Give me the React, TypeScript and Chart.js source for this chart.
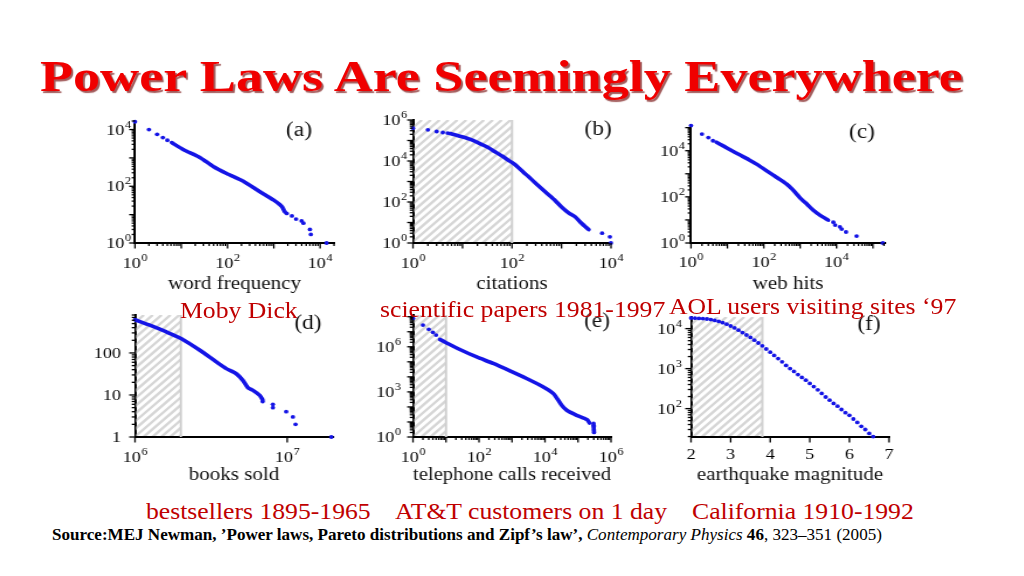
import React, { useEffect, useRef } from "react";
import { Chart, registerables } from "chart.js";
Chart.register(...registerables);

const BLUE = "#1414e6";
const SERIF = "'Liberation Serif', 'Times New Roman', Times, serif";
const SX = 1.17;

// ---------- data ----------
// (a) Moby Dick: word frequency vs number of words
const mobyDickCurve: [number, number][] = [
  [6.2, 3470], [11.2, 1950], [25.7, 1020], [49, 500], [95.5, 282], [219, 150],
  [501, 64], [977, 33], [1479, 19.5], [1738, 12.3],
];
const mobyDickDots: [number, number][] = [
  [1, 18855], [2, 10000], [3, 6800], [4, 5200], [5, 4200],
  [1905, 11], [2455, 9], [3020, 7], [3981, 6], [4365, 5], [6026, 3], [6310, 2], [13800, 1],
];
// (b) citations of scientific papers
const citationsCurve: [number, number][] = [
  [5.6, 219000], [9.3, 158000], [14, 117000], [20.4, 79400], [31.6, 47900], [44.7, 28800],
  [63, 17400], [83, 11200], [110, 7240], [158, 3390], [214, 1740], [316, 741], [468, 316],
  [708, 132], [1000, 57.5], [1413, 28.8], [1905, 18.6], [2570, 8.9], [3548, 4.5],
];
const citationsDots: [number, number][] = [
  [1, 398000], [2, 331000], [3, 275000], [4, 245000], [5, 229000],
  [6607, 3], [9500, 2], [9950, 1],
];
// (c) web hits
const webHitsCurve: [number, number][] = [
  [5, 23400], [7.9, 15800], [12.6, 10500], [22.4, 6460], [39.8, 3980], [63, 2630],
  [112, 1445], [182, 871], [282, 562], [427, 355], [631, 200], [977, 93], [1585, 45.7],
  [2291, 26.3], [3548, 15.8], [5888, 9.8],
];
const webHitsDots: [number, number][] = [
  [1, 123000], [2, 52500], [3, 37000], [4, 27000],
  [8128, 8], [9120, 6], [12300, 5], [13800, 4], [18200, 3], [35500, 2], [186000, 1],
];
// (d) books sold
const booksCurve: [number, number][] = [
  [1e6, 617], [1.25e6, 457], [1.61e6, 316], [2.02e6, 219], [2.67e6, 116], [3.43e6, 61],
  [3.98e6, 42.4], [4.63e6, 32], [5.13e6, 22], [5.52e6, 14.9], [5.96e6, 12.9], [6.6e6, 9.8],
  [6.9e6, 7.7],
];
const booksDots: [number, number][] = [
  [6.9e6, 7], [8.05e6, 6], [8.05e6, 5], [9.85e6, 4], [1.09e7, 3], [1.135e7, 2], [1.95e7, 1],
];
// (e) telephone calls received
const callsCurve: [number, number][] = [
  [6.5, 3.1e6], [9.8, 1.95e6], [26.3, 6.6e5], [85, 2.1e5], [270, 7.8e4], [870, 2.5e4],
  [2760, 7800], [8900, 2150], [18000, 776], [32000, 129], [45700, 60], [91000, 27.5],
  [186000, 14.4], [224000, 8.5],
];
const callsDots: [number, number][] = [
  [1, 7.8e7], [2, 2.77e7], [3, 1.44e7], [4, 9.1e6], [5, 6e6],
  [2.95e5, 8], [2.97e5, 6], [3.0e5, 5], [3.0e5, 4], [3.02e5, 3], [3.05e5, 2.5], [3.05e5, 2],
];
// (f) earthquake magnitude
const quakeMagnitudes: number[] = [
  2.0, 2.1, 2.2, 2.3, 2.4, 2.5, 2.6, 2.7, 2.8, 2.9, 3.0, 3.1, 3.2, 3.3, 3.4, 3.5, 3.6, 3.7,
  3.8, 3.9, 4.0, 4.1, 4.2, 4.3, 4.4, 4.5, 4.6, 4.7, 4.8, 4.9, 5.0, 5.1, 5.2, 5.3, 5.4, 5.5,
  5.6, 5.7, 5.8, 5.9, 6.0, 6.1, 6.2, 6.3, 6.4, 6.5, 6.6,
];
const quakeCounts: number[] = [
  18400, 18200, 18000, 17800, 17400, 16800, 16000, 15100, 14100, 12900, 11600, 10400, 9120,
  7940, 6920, 6030, 5130, 4370, 3720, 3090, 2570, 2140, 1780, 1480, 1200, 1000, 851, 708,
  603, 513, 427, 355, 295, 240, 195, 162, 135, 115, 95, 79, 68, 55, 45, 36, 30, 24, 20,
];

// shaded (hatched) ranges
const citationsHatch: [number, number] = [1, 100];
const booksHatch: [number, number] = [1e6, 2e6];
const callsHatch: [number, number] = [1, 10];
const quakeHatch: [number, number] = [2, 3.8];

// labelled ticks
const aXTicks = [1, 100, 10000];
const aYTicks = [1, 100, 10000];
const bXTicks = [1, 100, 10000];
const bYTicks = [1, 100, 10000, 1000000];
const cXTicks = [1, 100, 10000];
const cYTicks = [1, 100, 10000];
const dXTicks = [1e6, 1e7];
const dYTicks = [1, 10, 100];
const eXTicks = [1, 100, 10000, 1000000];
const eYTicks = [1, 1000, 1000000];
const fXTicks = [2, 3, 4, 5, 6, 7];
const fYTicks = [100, 1000, 10000];

// ---------- helpers ----------
type Lbl = [string, string];
const pow10Label = (v: number): Lbl => ["10", String(Math.round(Math.log10(v)))];
const plainLabel = (v: number): Lbl => [String(v), ""];

function buildTickValues(type: string, min: number, max: number, minor: boolean, labeled: number[]) {
  if (type === "linear") return labeled.slice();
  const out: number[] = [];
  const e0 = Math.floor(Math.log10(min) + 1e-9);
  const e1 = Math.ceil(Math.log10(max) - 1e-9);
  for (let e = e0; e <= e1; e++) {
    for (let m = 1; m <= 9; m++) {
      if (!minor && m !== 1) continue;
      const v = parseFloat((m * Math.pow(10, e)).toPrecision(12));
      if (v >= min * (1 - 1e-9) && v <= max * (1 + 1e-9)) out.push(v);
    }
  }
  return out;
}
const isMajor = (type: string, v: number) =>
  type === "linear" ? true : Math.abs(Math.log10(v) - Math.round(Math.log10(v))) < 1e-6;
const toXY = (pairs: [number, number][]) => pairs.map(([x, y]) => ({ x, y }));

type PanelDef = {
  key: string;
  area: [number, number, number, number];
  xType: "logarithmic" | "linear";
  xMin: number; xMax: number; yMin: number; yMax: number;
  xTicks: number[]; yTicks: number[];
  xMinor: boolean; yMinor: boolean;
  xFmt: (v: number) => Lbl; yFmt: (v: number) => Lbl;
  xTitle: string; titleMid: number;
  letter: string; letterAt: [number, number];
  curve?: [number, number][]; dots: [number, number][];
  hatch?: [number, number];
  xBase: number; yGap: number;
};

const panels: PanelDef[] = [
  {
    key: "a", area: [135, 121, 334, 243], xType: "logarithmic",
    xMin: 1, xMax: 20000, yMin: 1, yMax: 20000, xTicks: aXTicks, yTicks: aYTicks,
    xMinor: true, yMinor: true, xFmt: pow10Label, yFmt: pow10Label,
    xTitle: "word frequency", titleMid: 284, letter: "(a)", letterAt: [299, 131],
    curve: mobyDickCurve, dots: mobyDickDots, xBase: 25, yGap: 4,
  },
  {
    key: "b", area: [413, 120, 611, 243], xType: "logarithmic",
    xMin: 1, xMax: 10000, yMin: 1, yMax: 1000000, xTicks: bXTicks, yTicks: bYTicks,
    xMinor: true, yMinor: true, xFmt: pow10Label, yFmt: pow10Label,
    xTitle: "citations", titleMid: 284, letter: "(b)", letterAt: [598, 130],
    curve: citationsCurve, dots: citationsDots, hatch: citationsHatch, xBase: 25, yGap: 6,
  },
  {
    key: "c", area: [691, 125, 885, 243], xType: "logarithmic",
    xMin: 1, xMax: 214000, yMin: 1, yMax: 130000, xTicks: cXTicks, yTicks: cYTicks,
    xMinor: true, yMinor: true, xFmt: pow10Label, yFmt: pow10Label,
    xTitle: "web hits", titleMid: 284, letter: "(c)", letterAt: [862, 133],
    curve: webHitsCurve, dots: webHitsDots, xBase: 24, yGap: 6,
  },
  {
    key: "d", area: [135, 315, 333, 437], xType: "logarithmic",
    xMin: 1e6, xMax: 2e7, yMin: 1, yMax: 800, xTicks: dXTicks, yTicks: dYTicks,
    xMinor: false, yMinor: true, xFmt: pow10Label, yFmt: plainLabel,
    xTitle: "books sold", titleMid: 475, letter: "(d)", letterAt: [308, 324],
    curve: booksCurve, dots: booksDots, hatch: booksHatch, xBase: 25, yGap: 14,
  },
  {
    key: "e", area: [413, 315, 611, 437], xType: "logarithmic",
    xMin: 1, xMax: 1000000, yMin: 1, yMax: 1.3e8, xTicks: eXTicks, yTicks: eYTicks,
    xMinor: true, yMinor: true, xFmt: pow10Label, yFmt: pow10Label,
    xTitle: "telephone calls received", titleMid: 475, letter: "(e)", letterAt: [597, 322],
    curve: callsCurve, dots: callsDots, hatch: callsHatch, xBase: 25, yGap: 12,
  },
  {
    key: "f", area: [691, 317, 889, 437], xType: "linear",
    xMin: 2, xMax: 7, yMin: 19.5, yMax: 19500, xTicks: fXTicks, yTicks: fYTicks,
    xMinor: false, yMinor: true, xFmt: plainLabel, yFmt: pow10Label,
    xTitle: "earthquake magnitude", titleMid: 475, letter: "(f)", letterAt: [869, 325],
    dots: quakeMagnitudes.map((m, i) => [m, quakeCounts[i]] as [number, number]),
    hatch: quakeHatch, xBase: 22, yGap: 9,
  },
];

const PAD_L = 52, PAD_R = 14, PAD_T = 10, PAD_B = 53;
const BASE_SIZE = 15.5;
const EXP_SIZE = 10.5;
const TITLE_SIZE = 18;

function drawTickLabel(ctx: any, lbl: Lbl, x: number, baseline: number, align: "center" | "right") {
  const [base, exp] = lbl;
  ctx.font = `${BASE_SIZE}px ${SERIF}`;
  const wb = ctx.measureText(base).width;
  ctx.font = `${EXP_SIZE}px ${SERIF}`;
  const we = exp ? ctx.measureText(exp).width + 0.5 : 0;
  const total = wb + we;
  const x0 = align === "center" ? x - total / 2 : x - total;
  ctx.textAlign = "left";
  ctx.textBaseline = "alphabetic";
  ctx.font = `${BASE_SIZE}px ${SERIF}`;
  ctx.fillText(base, x0, baseline);
  if (exp) {
    ctx.font = `${EXP_SIZE}px ${SERIF}`;
    ctx.fillText(exp, x0 + wb + 0.5, baseline - 7);
  }
}

function Panel({ def }: { def: PanelDef }) {
  const ref = useRef<HTMLCanvasElement>(null);
  const [l, t, r, b] = def.area;
  const pageLeft = l - PAD_L;
  const pageTop = t - PAD_T;
  const pageW = r - l + PAD_L + PAD_R;
  const pageH = b - t + PAD_T + PAD_B;
  const cw = Math.round(pageW / SX);
  const sx = pageW / cw;

  useEffect(() => {
    const canvas = ref.current!;
    const xVals = buildTickValues(def.xType, def.xMin, def.xMax, def.xMinor, def.xTicks);
    const yVals = buildTickValues("logarithmic", def.yMin, def.yMax, def.yMinor, def.yTicks);
    const pb = pageH - (TITLE_SIZE * 1.2) / 2 - (def.titleMid - pageTop);

    const decor = {
      id: "decor" + def.key,
      beforeDatasetsDraw(chart: any) {
        if (!def.hatch) return;
        const { ctx, chartArea: ca, scales } = chart;
        const x0 = Math.max(ca.left, scales.x.getPixelForValue(def.hatch[0]));
        const x1 = scales.x.getPixelForValue(def.hatch[1]);
        const H = ca.bottom - ca.top;
        ctx.save();
        ctx.beginPath();
        ctx.rect(x0 + 1, ca.top, x1 - x0 - 1, H - 1);
        ctx.clip();
        ctx.strokeStyle = "#d6d6d6";
        ctx.lineWidth = 2.4;
        for (let s = x0 - H; s < x1 + 10; s += 7.6) {
          ctx.beginPath();
          ctx.moveTo(s, ca.bottom);
          ctx.lineTo(s + H, ca.top);
          ctx.stroke();
        }
        ctx.restore();
        ctx.save();
        ctx.strokeStyle = "#cfcfcf";
        ctx.lineWidth = 2;
        ctx.beginPath();
        ctx.moveTo(x1, ca.top);
        ctx.lineTo(x1, ca.bottom);
        ctx.stroke();
        ctx.restore();
      },
      afterDraw(chart: any) {
        const { ctx, chartArea: ca, scales } = chart;
        ctx.save();
        ctx.strokeStyle = "#000";
        ctx.lineWidth = 1.3;
        for (const v of xVals) {
          const p = scales.x.getPixelForValue(v);
          const len = isMajor(def.xType, v) ? 5.5 : 3;
          ctx.beginPath();
          ctx.moveTo(p, ca.bottom);
          ctx.lineTo(p, ca.bottom + len);
          ctx.stroke();
        }
        for (const v of yVals) {
          const p = scales.y.getPixelForValue(v);
          const len = isMajor("logarithmic", v) ? 5 : 2.8;
          ctx.beginPath();
          ctx.moveTo(ca.left, p);
          ctx.lineTo(ca.left - len, p);
          ctx.stroke();
        }
        // tick labels, positioned by the chart's own scales
        ctx.fillStyle = "#000";
        for (const v of def.xTicks) {
          drawTickLabel(ctx, def.xFmt(v), scales.x.getPixelForValue(v), ca.bottom + def.xBase, "center");
        }
        for (const v of def.yTicks) {
          drawTickLabel(ctx, def.yFmt(v), ca.left - def.yGap / sx, scales.y.getPixelForValue(v) + 5, "right");
        }
        // panel letter
        ctx.fillStyle = "#111";
        ctx.font = `20px ${SERIF}`;
        ctx.textAlign = "center";
        ctx.textBaseline = "middle";
        ctx.fillText(def.letter, (def.letterAt[0] - pageLeft) / sx, def.letterAt[1] - pageTop);
        ctx.restore();
      },
    };

    const datasets: any[] = [];
    if (def.curve) {
      datasets.push({
        data: toXY(def.curve), showLine: true, borderColor: BLUE, borderWidth: 3.6,
        pointRadius: 0, tension: 0.2, borderCapStyle: "round", borderJoinStyle: "round", clip: false,
      });
    }
    datasets.push({
      data: toXY(def.dots), showLine: false, pointRadius: 1.9, pointBorderWidth: 0,
      pointBackgroundColor: BLUE, backgroundColor: BLUE, borderColor: BLUE, clip: false,
    });

    const chart = new Chart(canvas, {
      type: "scatter",
      data: { datasets },
      options: {
        responsive: false,
        maintainAspectRatio: false,
        animation: false,
        devicePixelRatio: 1,
        events: [],
        layout: { padding: { left: 0, right: PAD_R / sx, top: PAD_T, bottom: 0 } },
        plugins: { legend: { display: false }, tooltip: { enabled: false } },
        scales: {
          x: {
            type: def.xType,
            position: "bottom",
            min: def.xMin,
            max: def.xMax,
            afterFit: (s: any) => { s.height = PAD_B; },
            afterBuildTicks: (s: any) => { s.ticks = xVals.map((v) => ({ value: v })); },
            grid: { display: false, drawTicks: false },
            border: { display: true, color: "#000", width: 2 },
            ticks: { display: false, autoSkip: false, maxRotation: 0 },
            title: {
              display: true, text: def.xTitle, color: "#111",
              font: { family: SERIF, size: TITLE_SIZE }, padding: { top: 0, bottom: pb },
            },
          },
          y: {
            type: "logarithmic",
            position: "left",
            min: def.yMin,
            max: def.yMax,
            afterFit: (s: any) => { s.width = PAD_L / sx; },
            afterBuildTicks: (s: any) => { s.ticks = yVals.map((v) => ({ value: v })); },
            grid: { display: false, drawTicks: false },
            border: { display: true, color: "#000", width: 2 },
            ticks: { display: false, autoSkip: false },
          },
        },
      },
      plugins: [decor],
    } as any);
    return () => chart.destroy();
  }, []);

  return (
    <div
      style={{
        position: "absolute", left: pageLeft, top: pageTop, width: cw, height: pageH,
        transform: `scaleX(${sx})`, transformOrigin: "0 0",
      }}
    >
      <canvas ref={ref} width={cw} height={pageH} style={{ width: cw, height: pageH, display: "block" }} />
    </div>
  );
}

function Text({ left, baseline, size, children, style }: any) {
  return (
    <div
      style={{
        position: "absolute", left, top: baseline - 0.8375 * size, fontSize: size,
        lineHeight: `${size}px`, fontFamily: SERIF, whiteSpace: "nowrap",
        transformOrigin: "0 0", ...style,
      }}
    >
      {children}
    </div>
  );
}

const CAP = "#c00000";

export default function App() {
  return (
    <div
      style={{
        position: "fixed", left: 0, top: 0, width: 1024, height: 576, background: "#fff",
        overflow: "hidden",
      }}
    >
      <Text
        left={40} baseline={92} size={44}
        style={{
          fontWeight: "bold", color: "#f00000", transform: "scaleX(1.23)",
          textShadow: "1.5px 1.5px 1px rgba(110,0,0,0.65)",
        }}
      >
        Power Laws Are Seemingly Everywhere
      </Text>

      {panels.map((p) => (
        <Panel key={p.key} def={p} />
      ))}

      <Text left={180} baseline={318} size={24} style={{ color: CAP, transform: "scaleX(1.07)" }}>Moby Dick</Text>
      <Text left={380} baseline={317} size={24} style={{ color: CAP, transform: "scaleX(1.07)" }}>scientific papers 1981-1997</Text>
      <Text left={669} baseline={314} size={24} style={{ color: CAP, transform: "scaleX(1.07)" }}>AOL users visiting sites ‘97</Text>
      <Text left={146} baseline={519} size={24} style={{ color: CAP, transform: "scaleX(1.07)" }}>bestsellers 1895-1965</Text>
      <Text left={395} baseline={519} size={24} style={{ color: CAP, transform: "scaleX(1.07)" }}>AT&amp;T customers on 1 day</Text>
      <Text left={692} baseline={519} size={24} style={{ color: CAP, transform: "scaleX(1.07)" }}>California 1910-1992</Text>

      <Text left={52} baseline={540} size={16} style={{ color: "#000", transform: "scaleX(1.066)" }}>
        <b>Source:MEJ Newman, ’Power laws, Pareto distributions and Zipf’s law’,</b>{" "}
        <i>Contemporary Physics</i> <b>46</b>, 323–351 (2005)
      </Text>
    </div>
  );
}
